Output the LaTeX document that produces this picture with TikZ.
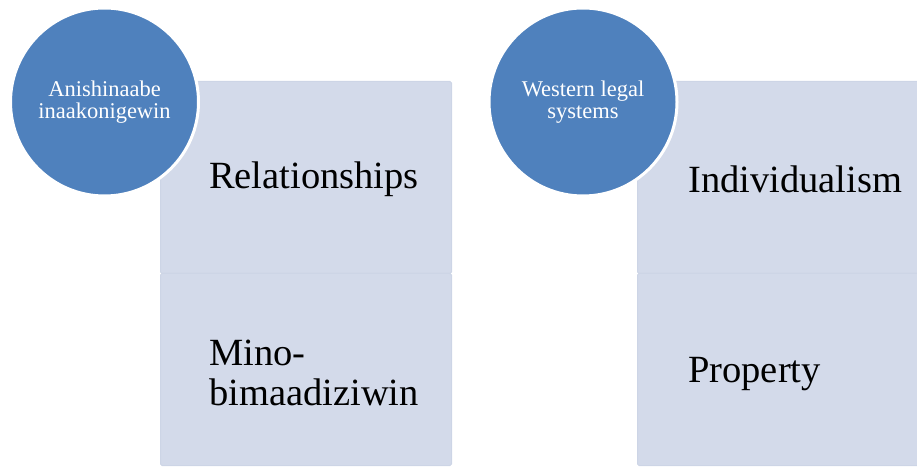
\documentclass[tikz,border=0pt]{standalone}
\usepackage{fontspec}
\setmainfont{Liberation Serif}
\usetikzlibrary{positioning}
\definecolor{hubblue}{HTML}{4F81BD}
\definecolor{cellfill}{HTML}{D3DAEA}
\definecolor{celledge}{HTML}{CDD5E6}

\begin{document}
\begin{tikzpicture}[x=1pt, y=1pt,
    cell/.style={draw=celledge, fill=cellfill, line width=1pt, rounded corners=1.5pt, minimum width=291pt, minimum height=192pt, inner sep=0pt, anchor=north west},
    hub/.style={circle, draw=white, line width=3pt, fill=hubblue, minimum size=188pt, inner sep=0pt, text=white, align=center, font=\fontsize{22.5}{22}\selectfont},
    celltext/.style={anchor=west, align=left, inner sep=0pt, font=\fontsize{38.5}{40}\selectfont}]
    \clip (0, 0) rectangle (917, 466);

    % Anishinaabe column
    \node[cell] (rel) at (160, 385) {};
    \node[cell] (mino) at (160, 193) {};
    \node[celltext] (reltext) at ([xshift=49pt, yshift=-2pt]rel.west) {Relationships};
    \node[celltext] (minotext) at ([xshift=49pt, yshift=-3pt]mino.west) {Mino-\\bimaadiziwin};
    \node[hub] (anish) at (104.5, 364) {Anishinaabe\\inaakonigewin};

    % Western column
    \node[cell] (indiv) at (637, 385) {};
    \node[cell] (prop) at (637, 193) {};
    \node[celltext] (indivtext) at ([xshift=51pt, yshift=-2pt]indiv.west) {Individualism};
    \node[celltext] (proptext) at ([xshift=51pt, yshift=-5pt]prop.west) {Property};
    \node[hub] (western) at (583, 364) {Western legal\\systems};
\end{tikzpicture}
\end{document}
